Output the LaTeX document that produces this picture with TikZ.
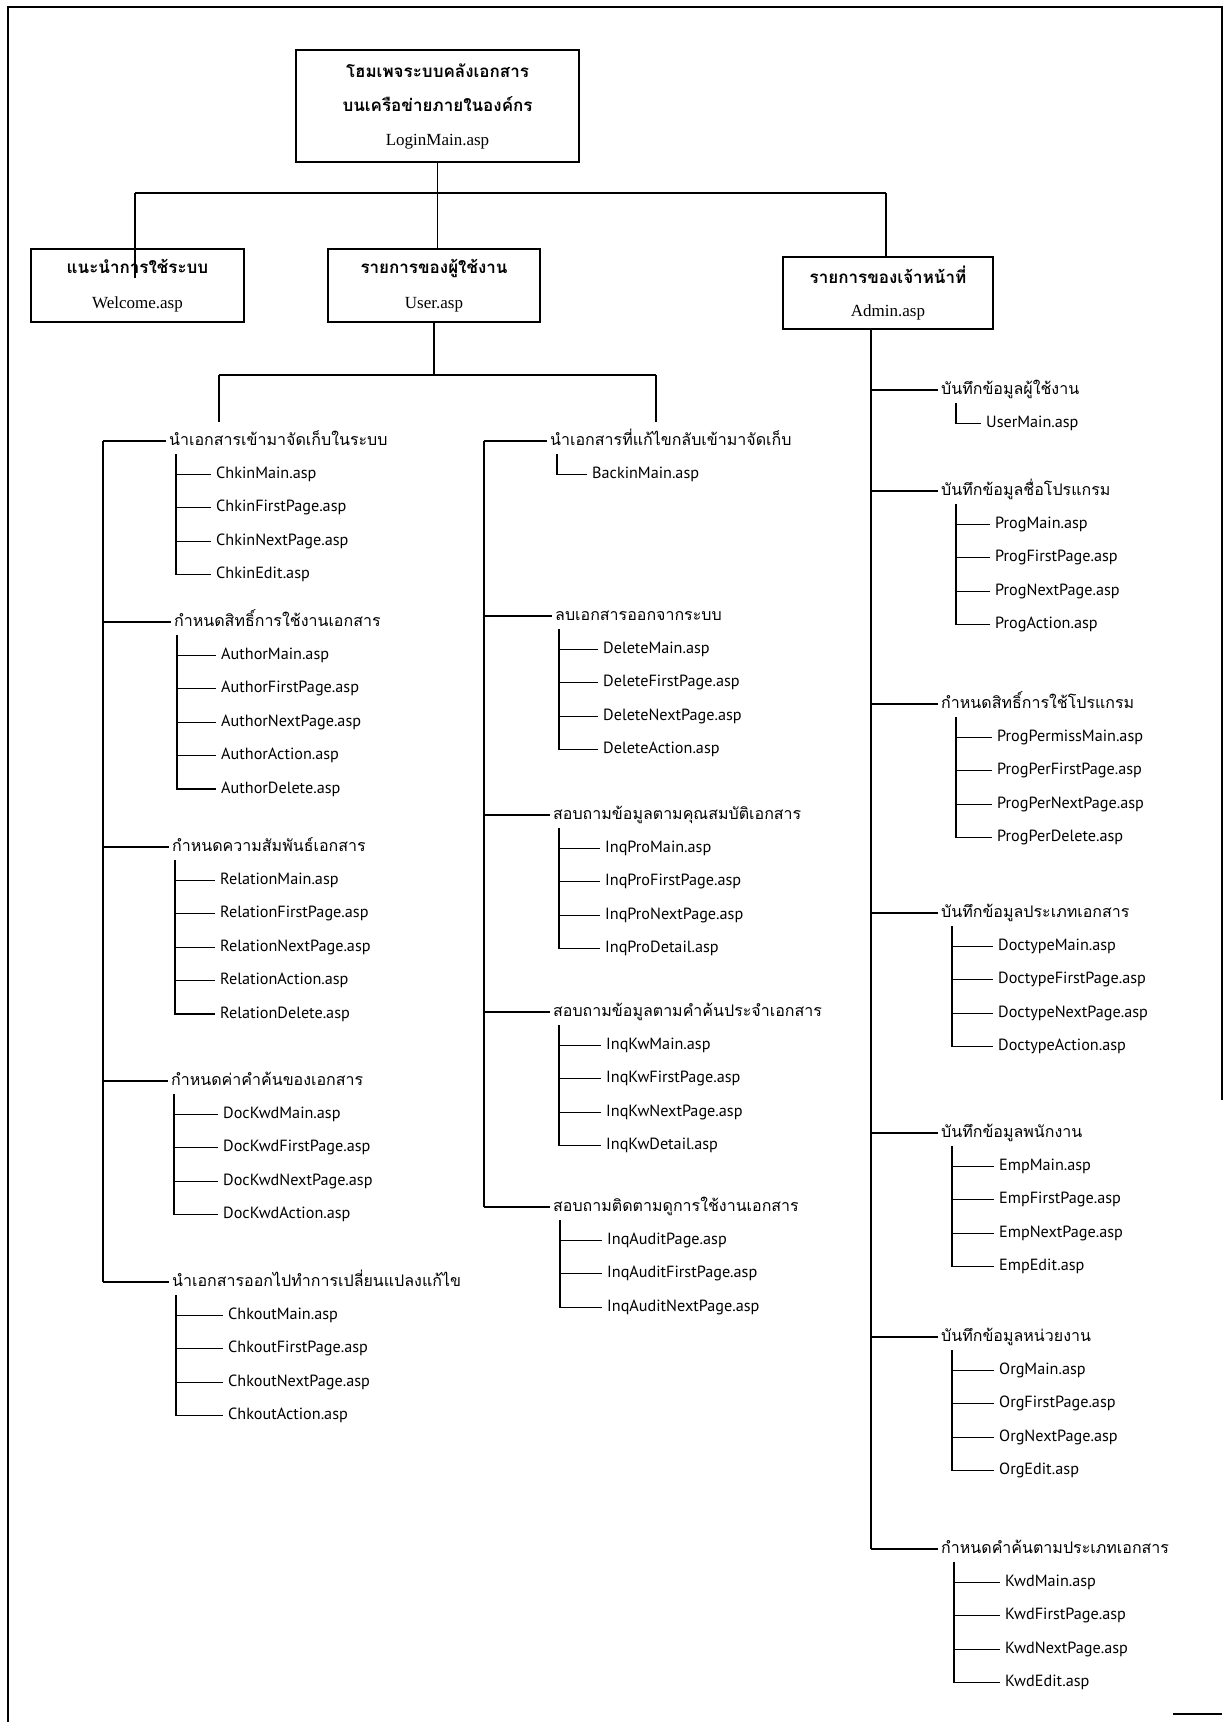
\documentclass[tikz,border=0pt]{standalone}
\usepackage{fontspec}
\setmainfont{Liberation Serif}
\newfontfamily\thai[Script=Thai]{Loma}
\newfontfamily\lat{PT Sans}
\newcommand\grp[8]{%
  \node[hdr] (#1) at (#3-3,#4) {#5};
  \draw[ln] (#2 |- #1.west) -- (#1.west);
  \coordinate (#1s) at (#6,#4+13);
  \foreach \c [count=\k] in {#8} {
    \node[chd] (#1c\k) at (#7-5,#4+\k*33.4) {\c};
    \draw[ln] (#1s) |- (#1c\k.west);
  }
}
\begin{document}
\begin{tikzpicture}[x=1pt,y=-1pt,
  ln/.style={line width=1.3pt},
  frame/.style={line width=2.2pt},
  box/.style={draw,line width=1.6pt,align=center,inner sep=0pt},
  hdr/.style={anchor=west,inner xsep=3pt,inner ysep=0pt,text height=12pt,text depth=4pt,
    font=\thai\fontsize{16}{18}\selectfont},
  chd/.style={anchor=west,inner xsep=5pt,inner ysep=0pt,text height=12pt,text depth=4pt,
    font=\lat\fontsize{16.2}{18}\selectfont}]
\useasboundingbox (0,0) rectangle (1227,1722);
% frame
\draw[frame] (8,1722) -- (8,7) -- (1222,7) -- (1222,1100);
\draw[frame] (1173,1714) -- (1222,1714);
% top boxes
\node[box,minimum width=283pt,minimum height=112pt,font=\fontsize{17}{34}\selectfont] (login) at (437.5,106)
  {{\thai\bfseries โฮมเพจระบบคลังเอกสาร}\\{\thai\bfseries บนเครือข่ายภายในองค์กร}\\LoginMain.asp};
\node[box,minimum width=213pt,minimum height=73pt,font=\fontsize{17}{35}\selectfont] (welcome) at (137.5,285.5)
  {{\thai\bfseries แนะนำการใช้ระบบ}\\Welcome.asp};
\node[box,minimum width=212pt,minimum height=73pt,font=\fontsize{17}{35}\selectfont] (user) at (434,285.5)
  {{\thai\bfseries รายการของผู้ใช้งาน}\\User.asp};
\node[box,minimum width=210pt,minimum height=72pt,font=\fontsize{17}{33}\selectfont] (admin) at (888,293)
  {{\thai\bfseries รายการของเจ้าหน้าที่}\\Admin.asp};
% top connectors
\coordinate (hl) at (135,193);
\coordinate (hr) at (886,193);
\coordinate (wtip) at (135,278);
\draw[ln] (hl) -- (hr);
\draw[ln] (hl) -- (wtip);
\draw[ln] (login.south) -- (login.south |- user.north);
\draw[ln] (hr) -- (hr |- admin.north);
% user bar
\coordinate (barL) at (219,375);
\coordinate (barR) at (656,375);
\coordinate (dropL) at (219,422);
\coordinate (dropR) at (656,422);
\draw[ln] (user.south) -- (user.south |- barL);
\draw[ln] (barL) -- (barR);
\draw[ln] (barL) -- (dropL);
\draw[ln] (barR) -- (dropR);
% trunks
\coordinate (LT) at (103,441);
\coordinate (MT) at (484,441);
\coordinate (RT) at (871,329);
% left column
\grp{L1}{LT}{169}{441}{นำเอกสารเข้ามาจัดเก็บในระบบ}{176}{216}{ChkinMain.asp,ChkinFirstPage.asp,ChkinNextPage.asp,ChkinEdit.asp}
\grp{L2}{LT}{174}{622}{กำหนดสิทธิ์การใช้งานเอกสาร}{177}{221}{AuthorMain.asp,AuthorFirstPage.asp,AuthorNextPage.asp,AuthorAction.asp,AuthorDelete.asp}
\grp{L3}{LT}{172}{847}{กำหนดความสัมพันธ์เอกสาร}{175}{220}{RelationMain.asp,RelationFirstPage.asp,RelationNextPage.asp,RelationAction.asp,RelationDelete.asp}
\grp{L4}{LT}{171}{1081}{กำหนดค่าคำค้นของเอกสาร}{174}{223}{DocKwdMain.asp,DocKwdFirstPage.asp,DocKwdNextPage.asp,DocKwdAction.asp}
\grp{L5}{LT}{172}{1282}{นำเอกสารออกไปทำการเปลี่ยนแปลงแก้ไข}{176}{228}{ChkoutMain.asp,ChkoutFirstPage.asp,ChkoutNextPage.asp,ChkoutAction.asp}
\draw[ln] (LT) -- (LT |- L5.west);
% middle column
\grp{M1}{MT}{550}{441}{นำเอกสารที่แก้ไขกลับเข้ามาจัดเก็บ}{557}{592}{BackinMain.asp}
\grp{M2}{MT}{555}{616}{ลบเอกสารออกจากระบบ}{559}{603}{DeleteMain.asp,DeleteFirstPage.asp,DeleteNextPage.asp,DeleteAction.asp}
\grp{M3}{MT}{553}{815}{สอบถามข้อมูลตามคุณสมบัติเอกสาร}{559}{605}{InqProMain.asp,InqProFirstPage.asp,InqProNextPage.asp,InqProDetail.asp}
\grp{M4}{MT}{553}{1012}{สอบถามข้อมูลตามคำค้นประจำเอกสาร}{559}{606}{InqKwMain.asp,InqKwFirstPage.asp,InqKwNextPage.asp,InqKwDetail.asp}
\grp{M5}{MT}{553}{1207}{สอบถามติดตามดูการใช้งานเอกสาร}{560}{607}{InqAuditPage.asp,InqAuditFirstPage.asp,InqAuditNextPage.asp}
\draw[ln] (MT) -- (MT |- M5.west);
% right column
\grp{R1}{RT}{941}{390}{บันทึกข้อมูลผู้ใช้งาน}{956}{986}{UserMain.asp}
\grp{R2}{RT}{941}{491}{บันทึกข้อมูลชื่อโปรแกรม}{956}{995}{ProgMain.asp,ProgFirstPage.asp,ProgNextPage.asp,ProgAction.asp}
\grp{R3}{RT}{941}{704}{กำหนดสิทธิ์การใช้โปรแกรม}{956}{997}{ProgPermissMain.asp,ProgPerFirstPage.asp,ProgPerNextPage.asp,ProgPerDelete.asp}
\grp{R4}{RT}{941}{913}{บันทึกข้อมูลประเภทเอกสาร}{952}{998}{DoctypeMain.asp,DoctypeFirstPage.asp,DoctypeNextPage.asp,DoctypeAction.asp}
\grp{R5}{RT}{941}{1133}{บันทึกข้อมูลพนักงาน}{952}{999}{EmpMain.asp,EmpFirstPage.asp,EmpNextPage.asp,EmpEdit.asp}
\grp{R6}{RT}{941}{1337}{บันทึกข้อมูลหน่วยงาน}{952}{999}{OrgMain.asp,OrgFirstPage.asp,OrgNextPage.asp,OrgEdit.asp}
\grp{R7}{RT}{941}{1549}{กำหนดคำค้นตามประเภทเอกสาร}{954}{1005}{KwdMain.asp,KwdFirstPage.asp,KwdNextPage.asp,KwdEdit.asp}
\draw[ln] (RT) -- (RT |- R7.west);
\end{tikzpicture}
\end{document}
